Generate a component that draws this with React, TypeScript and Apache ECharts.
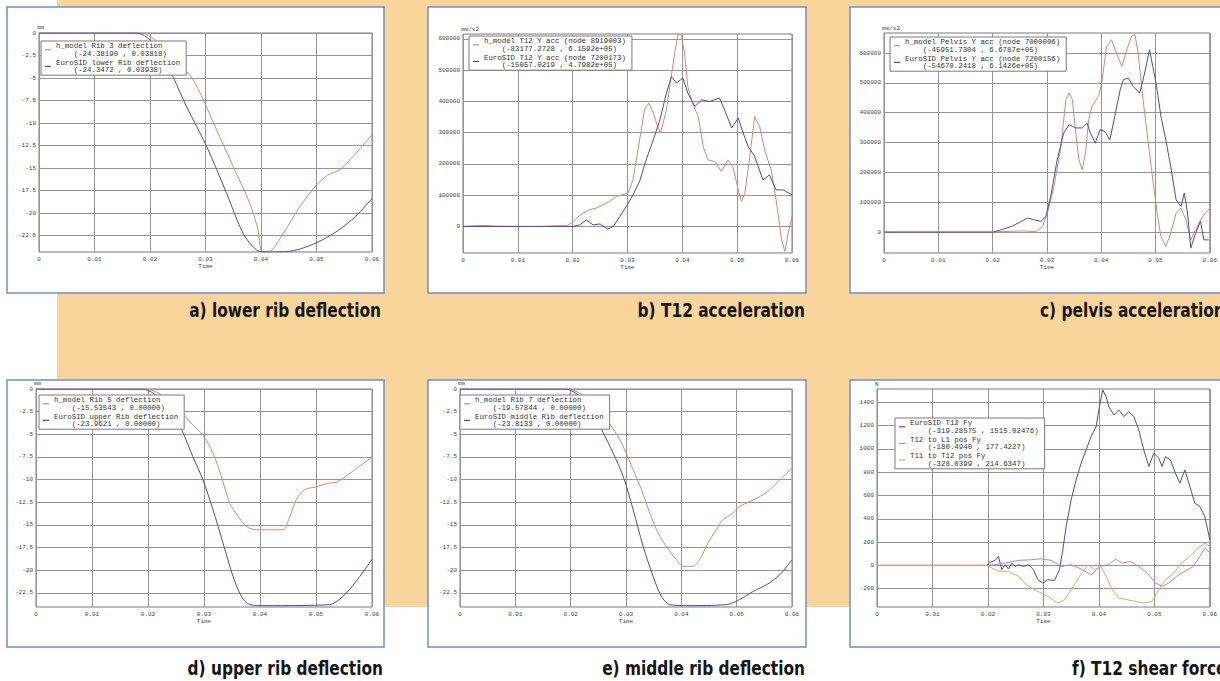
import React, { useEffect, useRef } from "react";
import * as echarts from "echarts";

// ---------- tick labels ----------
const TIME_TICKS = [0, 0.01, 0.02, 0.03, 0.04, 0.05, 0.06];
const DEFL_TICKS = [0, -2.5, -5, -7.5, -10, -12.5, -15, -17.5, -20, -22.5];
const ACC_TICKS = [0, 100000, 200000, 300000, 400000, 500000, 600000];
const FORCE_TICKS = [-200, 0, 200, 400, 600, 800, 1000, 1200, 1400];

// ---------- captions ----------
const CAPTIONS = [
  "a) lower rib deflection",
  "b) T12 acceleration",
  "c) pelvis acceleration",
  "d) upper rib deflection",
  "e) middle rib deflection",
  "f) T12 shear force",
];

// ---------- legend names and extremes ----------
const NAMES_A = ["h_model Rib 3 deflection", "EuroSID lower Rib deflection"];
const EXT_A = ["(-24.38190 , 0.03818)", "(-24.3472 , 0.03938)"];
const NAMES_B = ["h_model T12 Y acc (node 8919003)", "EuroSID T12 Y acc (node 7200173)"];
const EXT_B = ["(-83177.2728 , 6.1592e+05)", "(-15057.0219 , 4.7982e+05)"];
const NAMES_C = ["h_model Pelvis Y acc (node 7000006)", "EuroSID Pelvis Y acc (node 7200156)"];
const EXT_C = ["(-45951.7304 , 6.6787e+05)", "(-54670.2418 , 6.1426e+05)"];
const NAMES_D = ["h_model Rib 5 deflection", "EuroSID upper Rib deflection"];
const EXT_D = ["(-15.53543 , 0.00000)", "(-23.9621 , 0.00000)"];
const NAMES_E = ["h_model Rib 7 deflection", "EuroSID middle Rib deflection"];
const EXT_E = ["(-19.57844 , 0.00000)", "(-23.8133 , 0.00000)"];
const NAMES_F = ["EuroSID T12 Fy", "T12 to L1 pos Fy", "T11 to T12 pos Fy"];
const EXT_F = ["(-319.28575 , 1515.02476)", "(-180.4940 , 177.4227)", "(-328.0399 , 214.6347)"];

// ---------- series data [time s, value] ----------
const aModel = [[0,0],[0.0188,0],[0.0194,-0.19],[0.021,-0.8],[0.023,-2.0],[0.0255,-3.6],[0.0275,-4.94],[0.0296,-7.43],[0.032,-10.77],[0.035,-14.86],[0.038,-18.94],[0.0395,-22.0],[0.040,-24.1],[0.041,-24.33],[0.042,-24.1],[0.044,-22.3],[0.047,-19.3],[0.050,-16.9],[0.052,-15.8],[0.0542,-15.2],[0.0566,-13.7],[0.06,-11.3]];
const aEuro = [[0,0],[0.0175,0],[0.019,-0.3],[0.021,-1.4],[0.0225,-2.9],[0.0242,-4.94],[0.0266,-8.2],[0.0302,-12.6],[0.0338,-17.8],[0.0368,-22.3],[0.0392,-24.1],[0.041,-24.33],[0.0452,-24.25],[0.048,-23.8],[0.051,-23.0],[0.054,-21.9],[0.057,-20.4],[0.06,-18.4]];

const bModel = [[0,0],[0.002,2000],[0.004,3000],[0.006,1000],[0.01,0],[0.014,0],[0.017,2000],[0.0188,2000],[0.0198,10700],[0.0207,26700],[0.0219,42700],[0.0231,53400],[0.0243,58700],[0.0255,69400],[0.0267,80000],[0.028,96000],[0.0289,101000],[0.0301,106700],[0.031,149000],[0.0322,277000],[0.0331,373000],[0.0339,395000],[0.0347,363000],[0.0354,325000],[0.036,299000],[0.0371,373000],[0.0378,459000],[0.0386,555000],[0.0392,614000],[0.0398,614000],[0.0404,555000],[0.041,448000],[0.0418,395000],[0.0429,352000],[0.0438,256000],[0.0447,213000],[0.0459,208000],[0.0471,176000],[0.0483,213000],[0.0492,192000],[0.0502,117000],[0.0508,80000],[0.0514,107000],[0.0523,224000],[0.0532,352000],[0.0541,320000],[0.055,245000],[0.0562,181000],[0.0571,85000],[0.0581,-43000],[0.0587,-80000],[0.0593,-21000],[0.06,32000]];
const bEuro = [[0,0],[0.02,0],[0.0213,5000],[0.0225,21000],[0.0237,5000],[0.025,8000],[0.0264,-8500],[0.0274,0],[0.0286,32000],[0.0298,64000],[0.031,101000],[0.0322,144000],[0.0334,213000],[0.0347,277000],[0.0359,341000],[0.0371,427000],[0.038,480000],[0.0389,459000],[0.0401,475000],[0.041,427000],[0.0423,384000],[0.0435,405000],[0.045,400000],[0.0468,411000],[0.0477,373000],[0.049,315000],[0.0502,347000],[0.0511,299000],[0.052,256000],[0.0532,224000],[0.0547,149000],[0.0559,165000],[0.0571,117000],[0.0584,117000],[0.06,101000]];

const cModel = [[0,0],[0.0201,0],[0.022,2000],[0.0259,4000],[0.028,1000],[0.0292,19000],[0.0301,64000],[0.0313,153000],[0.0325,276000],[0.0335,444000],[0.0341,466000],[0.0347,444000],[0.0353,332000],[0.0359,242000],[0.0365,209000],[0.0371,265000],[0.0377,377000],[0.0383,421000],[0.0395,455000],[0.0401,500000],[0.041,622000],[0.0419,645000],[0.0428,600000],[0.0438,555000],[0.0447,611000],[0.0456,656000],[0.0462,662000],[0.0468,600000],[0.0477,444000],[0.0486,310000],[0.0495,175000],[0.0504,52000],[0.051,-15000],[0.0519,-48000],[0.0528,-3000],[0.0538,64000],[0.0547,80000],[0.0556,41000],[0.0565,-26000],[0.0574,8000],[0.0583,41000],[0.0592,64000],[0.06,80000]];
const cEuro = [[0,0],[0.0201,0],[0.0216,8000],[0.0235,19000],[0.0253,36000],[0.0265,47000],[0.0277,41000],[0.0289,36000],[0.0298,52000],[0.0307,120000],[0.0319,242000],[0.0331,332000],[0.0341,360000],[0.0353,349000],[0.0365,349000],[0.0374,365000],[0.038,332000],[0.0389,298000],[0.0398,343000],[0.0407,337000],[0.0416,309000],[0.0425,388000],[0.0435,477000],[0.0441,511000],[0.045,516000],[0.0459,488000],[0.0471,466000],[0.048,533000],[0.0489,611000],[0.0495,555000],[0.0501,500000],[0.051,388000],[0.0519,309000],[0.0528,220000],[0.0538,108000],[0.0547,86000],[0.0553,131000],[0.0559,64000],[0.0565,-54000],[0.0574,-3000],[0.0583,36000],[0.0589,-26000],[0.0598,-26000]];

const dModel = [[0,0],[0.0195,0],[0.022,-0.5],[0.025,-1.8],[0.0277,-3.78],[0.0298,-5.07],[0.0316,-7.09],[0.0331,-9.65],[0.0346,-12.6],[0.0361,-14.06],[0.0376,-15.16],[0.0393,-15.53],[0.0441,-15.53],[0.0453,-14.1],[0.0465,-12.2],[0.048,-11.1],[0.05,-10.8],[0.0521,-10.4],[0.0536,-10.3],[0.0554,-9.6],[0.0578,-8.5],[0.06,-7.5]];
const dEuro = [[0,0],[0.019,0],[0.021,-0.5],[0.0235,-2.0],[0.026,-4.5],[0.028,-7.45],[0.0298,-10.0],[0.0316,-13.3],[0.0334,-17.0],[0.0352,-20.7],[0.0367,-22.9],[0.0382,-23.8],[0.0411,-23.9],[0.0524,-23.8],[0.0542,-23.2],[0.056,-22.1],[0.0578,-20.7],[0.06,-18.8]];

const eModel = [[0,0],[0.0195,0],[0.022,-0.6],[0.025,-2.2],[0.028,-4.7],[0.0295,-6.35],[0.0313,-8.92],[0.0328,-11.12],[0.0343,-13.69],[0.0358,-15.9],[0.0373,-17.36],[0.0391,-18.83],[0.0403,-19.57],[0.0421,-19.57],[0.0433,-18.83],[0.0448,-17.0],[0.0463,-15.53],[0.0475,-14.43],[0.0493,-13.69],[0.0505,-12.96],[0.0524,-12.41],[0.0542,-11.86],[0.056,-11.12],[0.0578,-10.02],[0.06,-8.74]];
const eEuro = [[0,0],[0.019,0],[0.021,-0.5],[0.0235,-2.0],[0.0256,-4.5],[0.0277,-7.09],[0.0295,-9.65],[0.0313,-13.33],[0.0331,-17.36],[0.0349,-20.67],[0.0364,-22.87],[0.0379,-23.79],[0.0409,-23.9],[0.0481,-23.79],[0.0505,-23.24],[0.053,-22.32],[0.0554,-21.59],[0.0578,-20.48],[0.06,-18.83]];

const fEuro = [[0,0],[0.0198,0],[0.0204,26],[0.0213,43],[0.0219,77],[0.0225,-37],[0.0231,6],[0.0237,-31],[0.0243,20],[0.0249,-9],[0.0255,6],[0.0264,-9],[0.0273,6],[0.0282,-37],[0.029,-123],[0.0299,-151],[0.0308,-123],[0.032,-129],[0.0329,-37],[0.0335,134],[0.0341,334],[0.035,563],[0.0359,734],[0.0368,877],[0.0377,991],[0.0386,1106],[0.0395,1191],[0.0401,1363],[0.0407,1506],[0.0413,1449],[0.0418,1363],[0.0427,1291],[0.0436,1334],[0.0445,1277],[0.0454,1320],[0.0463,1277],[0.0472,1163],[0.0481,991],[0.049,849],[0.0499,963],[0.0508,920],[0.0514,849],[0.052,934],[0.0529,906],[0.0538,791],[0.0546,706],[0.0555,820],[0.0564,677],[0.0573,534],[0.0582,506],[0.0591,420],[0.06,220]];
const fT12L1 = [[0,0],[0.0198,0],[0.0213,6],[0.0231,20],[0.0255,43],[0.0279,49],[0.0296,57],[0.0314,43],[0.0332,-9],[0.035,6],[0.0368,-31],[0.0386,-80],[0.0404,-3],[0.0418,6],[0.043,54],[0.0442,20],[0.0457,34],[0.0472,-9],[0.0487,-66],[0.0502,-151],[0.0514,-180],[0.0526,-151],[0.054,-94],[0.0555,-51],[0.057,-9],[0.0582,77],[0.0591,149],[0.06,106]];
const fT11T12 = [[0,0],[0.0198,0],[0.0207,-23],[0.0219,-51],[0.0237,-51],[0.0255,-94],[0.0273,-180],[0.029,-223],[0.0308,-266],[0.0326,-323],[0.0338,-294],[0.035,-209],[0.0365,-94],[0.038,6],[0.0392,-37],[0.0404,-9],[0.0413,-94],[0.0424,-209],[0.0436,-280],[0.0451,-294],[0.0466,-309],[0.0481,-323],[0.0496,-309],[0.0508,-209],[0.052,-123],[0.0535,-66],[0.0549,20],[0.0564,77],[0.0579,149],[0.0591,191],[0.06,163]];

// ---------- styling ----------
const RED = "#E8806E";
const BLUE = "#4A4CA4";
const MAGENTA = "#C47CC6";
const ORANGE = "#F2A24E";
const ORANGE_BG = "#F9D49B";
const PANEL_BORDER = "#6E8FCB";
const MONO = "Liberation Mono";

type Panel = {
  box: [number, number, number, number];
  grid: { left: number; top: number; width: number; height: number };
  yMin: number;
  yMax: number;
  yTicks: number[];
  unit: string;
  names: string[];
  ext: string[];
  data: number[][][];
  colors: string[];
  smooth: boolean;
  legend: { left: number; top: number };
  caption: { x: number; y: number; align: "left" | "right" };
};

const PANELS: Panel[] = [
  { box: [7, 7, 377, 286], grid: { left: 39, top: 33, width: 333, height: 219 }, yMin: -24.33, yMax: 0, yTicks: DEFL_TICKS, unit: "mm", names: NAMES_A, ext: EXT_A, data: [aModel, aEuro], colors: [RED, BLUE], smooth: true, legend: { left: 41, top: 41 }, caption: { x: 381, y: 310, align: "right" } },
  { box: [428, 7, 378, 286], grid: { left: 463, top: 34, width: 329, height: 219 }, yMin: -85000, yMax: 616000, yTicks: ACC_TICKS, unit: "mm/s2", names: NAMES_B, ext: EXT_B, data: [bModel, bEuro], colors: [RED, BLUE], smooth: false, legend: { left: 469, top: 36 }, caption: { x: 805, y: 310, align: "right" } },
  { box: [850, 7, 400, 286], grid: { left: 884, top: 33, width: 330, height: 220 }, yMin: -70000, yMax: 667000, yTicks: ACC_TICKS, unit: "mm/s2", names: NAMES_C, ext: EXT_C, data: [cModel, cEuro], colors: [RED, BLUE], smooth: false, legend: { left: 890, top: 37 }, caption: { x: 1040, y: 310, align: "left" } },
  { box: [7, 380, 377, 267], grid: { left: 36, top: 389, width: 336, height: 218 }, yMin: -24.05, yMax: 0, yTicks: DEFL_TICKS, unit: "mm", names: NAMES_D, ext: EXT_D, data: [dModel, dEuro], colors: [RED, BLUE], smooth: true, legend: { left: 39, top: 395 }, caption: { x: 383, y: 668, align: "right" } },
  { box: [428, 380, 378, 267], grid: { left: 460, top: 389, width: 332, height: 218 }, yMin: -24.05, yMax: 0, yTicks: DEFL_TICKS, unit: "mm", names: NAMES_E, ext: EXT_E, data: [eModel, eEuro], colors: [RED, BLUE], smooth: true, legend: { left: 460, top: 395 }, caption: { x: 805, y: 668, align: "right" } },
  { box: [850, 380, 400, 267], grid: { left: 877, top: 389, width: 336, height: 218 }, yMin: -357, yMax: 1514, yTicks: FORCE_TICKS, unit: "N", names: NAMES_F, ext: EXT_F, data: [fEuro, fT12L1, fT11T12], colors: [BLUE, MAGENTA, ORANGE], smooth: false, legend: { left: 895, top: 418 }, caption: { x: 1072, y: 668, align: "left" } },
];

function buildOption() {
  const grids: any[] = [];
  const xAxes: any[] = [];
  const yAxes: any[] = [];
  const series: any[] = [];
  const legends: any[] = [];
  const graphics: any[] = [];
  const extMap: Record<string, string> = {};

  graphics.push({
    type: "rect",
    z: -20,
    shape: { x: 57, y: 0, width: 1163, height: 607 },
    style: { fill: ORANGE_BG },
  });

  PANELS.forEach((p, i) => {
    const [bx, by, bw, bh] = p.box;
    graphics.push({
      type: "rect",
      z: -10,
      shape: { x: bx, y: by, width: bw, height: bh },
      style: { fill: "#ffffff", stroke: PANEL_BORDER, lineWidth: 1.5 },
    });
    graphics.push({
      type: "text",
      z: 10,
      x: p.caption.x,
      y: p.caption.y,
      scaleX: 0.9,
      style: {
        text: CAPTIONS[i],
        fill: "#151515",
        fontSize: 19,
        fontWeight: "bold",
        fontFamily: "DejaVu Sans Condensed",
        textAlign: p.caption.align,
        textVerticalAlign: "middle",
      },
    });

    grids.push({
      ...p.grid,
      show: true,
      borderColor: "#7a7a7a",
      borderWidth: 1,
      backgroundColor: "transparent",
    });
    xAxes.push({
      type: "value",
      gridIndex: i,
      min: TIME_TICKS[0],
      max: TIME_TICKS[TIME_TICKS.length - 1],
      interval: 0.01,
      name: "Time",
      nameLocation: "middle",
      nameGap: 11,
      nameTextStyle: { fontSize: 6, fontFamily: MONO, color: "#444" },
      axisLine: { show: false },
      axisTick: { show: false },
      axisLabel: {
        fontSize: 6,
        fontFamily: MONO,
        color: "#444",
        margin: 4,
        formatter: (v: number) => (v === 0 ? "0" : v.toFixed(2)),
      },
      splitLine: { show: true, lineStyle: { color: "#959595", width: 1 } },
    });
    yAxes.push({
      type: "value",
      gridIndex: i,
      min: p.yMin,
      max: p.yMax,
      name: p.unit,
      nameLocation: "end",
      nameGap: 2,
      nameTextStyle: { fontSize: 6, fontFamily: MONO, color: "#444", align: "left", padding: [0, 0, 0, -2] },
      axisLine: { show: false },
      axisTick: { show: false, customValues: p.yTicks },
      axisLabel: {
        customValues: p.yTicks,
        fontSize: 6,
        fontFamily: MONO,
        color: "#444",
        margin: 3,
        formatter: (v: number) => String(v),
      },
      splitLine: { show: true, lineStyle: { color: "#959595", width: 1 } },
    });
    p.names.forEach((name, k) => {
      extMap[name] = p.ext[k];
      series.push({
        type: "line",
        name,
        xAxisIndex: i,
        yAxisIndex: i,
        data: p.data[k],
        showSymbol: false,
        smooth: p.smooth ? 0.3 : false,
        color: p.colors[k],
        lineStyle: { width: 1, color: p.colors[k] },
        z: 3,
      });
    });
    legends.push({
      data: p.names,
      left: p.legend.left,
      top: p.legend.top,
      orient: "vertical",
      icon: "rect",
      itemWidth: 6,
      itemHeight: 1.2,
      itemGap: 1,
      padding: [1, 6, 1, 4],
      backgroundColor: "#ffffff",
      borderColor: "#7a7a7a",
      borderWidth: 1,
      selectedMode: false,
      z: 6,
      textStyle: { fontSize: 7.4, lineHeight: 7.8, fontFamily: MONO, color: "#333" },
      formatter: (name: string) => name + "\n    " + extMap[name],
    });
  });

  return {
    animation: false,
    backgroundColor: "#ffffff",
    graphic: { elements: graphics },
    grid: grids,
    xAxis: xAxes,
    yAxis: yAxes,
    legend: legends,
    series,
  };
}

export default function App() {
  const ref = useRef<HTMLDivElement>(null);
  useEffect(() => {
    if (!ref.current) return;
    const chart = echarts.init(ref.current, null, { renderer: "svg" });
    chart.setOption(buildOption() as any);
    return () => chart.dispose();
  }, []);
  return (
    <div
      ref={ref}
      style={{ position: "absolute", left: 0, top: 0, width: 1220, height: 681 }}
    />
  );
}
